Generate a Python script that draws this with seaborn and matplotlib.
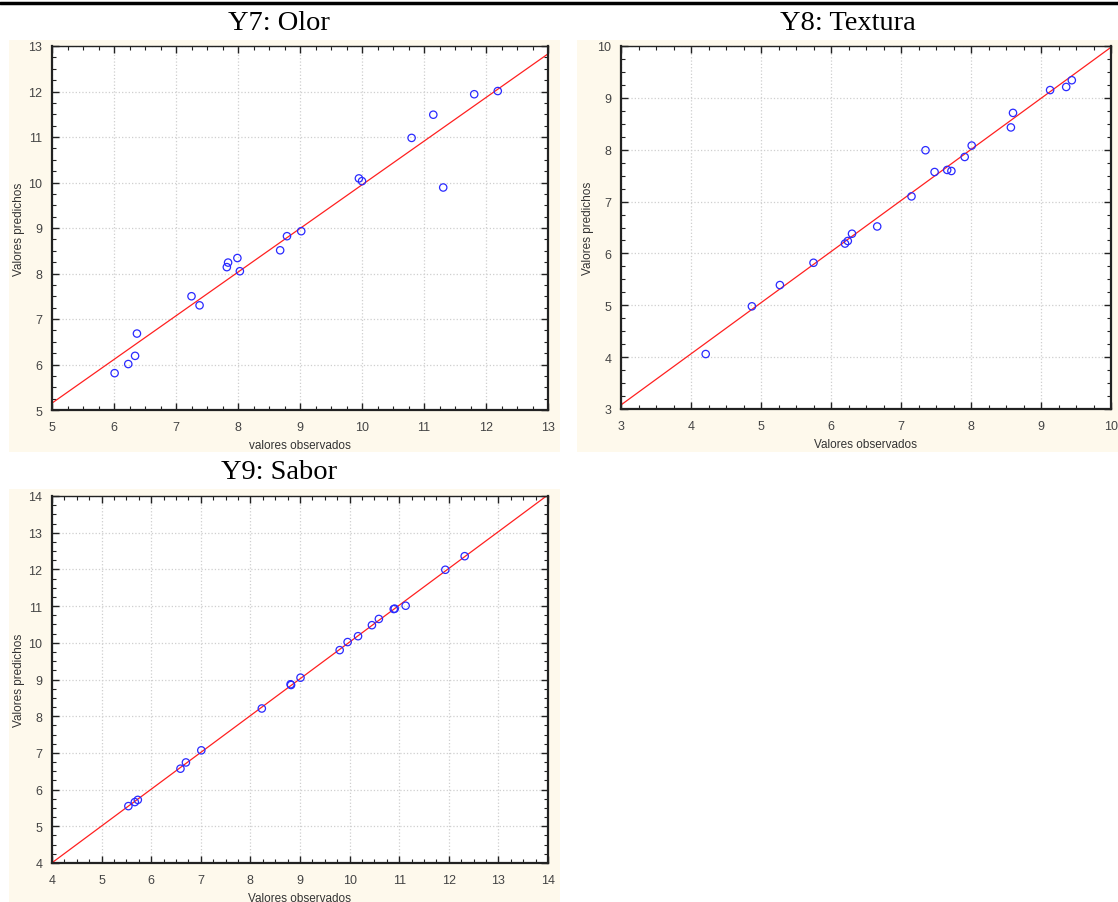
import numpy as np
import pandas as pd
import matplotlib
matplotlib.use("Agg")
import matplotlib.pyplot as plt
from matplotlib.patches import Rectangle
from matplotlib.lines import Line2D
from matplotlib.ticker import MultipleLocator
import seaborn as sns

# ---- data ----
y7_obs = [6.01, 6.23, 6.34, 6.37, 7.25, 7.38, 7.82, 7.84, 7.99, 8.03,
          8.68, 8.79, 9.02, 9.95, 10.00, 10.80, 11.15, 11.31, 11.81, 12.19]
y7_pred = [5.81, 6.01, 6.19, 6.68, 7.50, 7.30, 8.14, 8.24, 8.34, 8.05,
           8.51, 8.82, 8.93, 10.09, 10.03, 10.98, 11.49, 9.89, 11.94, 12.01]

y8_obs = [4.21, 4.87, 5.27, 5.75, 6.20, 6.24, 6.30, 6.66, 7.15, 7.35,
          7.48, 7.66, 7.72, 7.91, 8.01, 8.57, 8.60, 9.13, 9.36, 9.44]
y8_pred = [4.06, 4.98, 5.39, 5.82, 6.19, 6.24, 6.38, 6.52, 7.10, 7.99,
           7.57, 7.61, 7.59, 7.86, 8.08, 8.43, 8.71, 9.15, 9.21, 9.34]

y9_obs = [5.54, 5.67, 5.73, 6.59, 6.70, 7.01, 8.23, 8.81, 8.82, 9.01,
          9.80, 9.96, 10.17, 10.45, 10.59, 10.89, 10.91, 11.13, 11.93, 12.32]
y9_pred = [5.55, 5.66, 5.72, 6.57, 6.74, 7.07, 8.21, 8.87, 8.85, 9.05,
           9.80, 10.02, 10.18, 10.48, 10.65, 10.92, 10.93, 11.01, 11.99, 12.36]

titles = ["Y7: Olor", "Y8: Textura", "Y9: Sabor"]
xlabels = ["valores observados", "Valores observados", "Valores observados"]
ylabel = "Valores predichos"
limits = [(5, 13), (3, 10), (4, 14)]

sns.set_style("white")
plt.rcParams["font.family"] = ["Liberation Sans", "DejaVu Sans"]

W, H = 1118, 903
fig = plt.figure(figsize=(W / 100, H / 100), dpi=100)
fig.patch.set_facecolor("white")

def fx(px):
    return px / W

def fy(py):
    return 1 - py / H

cream = "#FEF9EC"
# background boxes (x0, y0, x1, y1) in pixels
boxes = [(9, 41, 560, 453), (577, 41, 1118, 453), (9, 490, 560, 903)]
for (x0, y0, x1, y1) in boxes:
    fig.add_artist(Rectangle((fx(x0), fy(y1)), fx(x1 - x0), (y1 - y0) / H,
                             transform=fig.transFigure, facecolor=cream,
                             edgecolor="none", zorder=0))

# top rule
fig.add_artist(Line2D([0, 1], [fy(4), fy(4)], transform=fig.transFigure,
                      color="black", linewidth=2.5, zorder=1))

# axes rectangles (left, top, right, bottom) in pixels
rects = [(52, 47, 548, 411), (621, 47, 1111, 410), (52, 497, 548, 864)]
title_pos = [(279, 23), (848, 23), (279, 473)]

datasets = [(y7_obs, y7_pred), (y8_obs, y8_pred), (y9_obs, y9_pred)]

for i, ((obs, pred), (l, t, r, b), (lo, hi)) in enumerate(zip(datasets, rects, limits)):
    ax = fig.add_axes([fx(l), fy(b), fx(r - l), (b - t) / H])
    ax.set_facecolor("white")
    df = pd.DataFrame({"obs": obs, "pred": pred})
    ax.set_xlim(lo, hi)
    ax.set_ylim(lo, hi)
    sns.regplot(data=df, x="obs", y="pred", ax=ax, scatter=False, ci=None,
                truncate=False, line_kws=dict(color="#ff2020", linewidth=0.9))
    sns.scatterplot(data=df, x="obs", y="pred", ax=ax, marker="o", s=28,
                    facecolor="none", edgecolor="#2a2aff", linewidth=0.9,
                    zorder=3)
    ax.set_xlim(lo, hi)
    ax.set_ylim(lo, hi)
    ax.xaxis.set_major_locator(MultipleLocator(1))
    ax.yaxis.set_major_locator(MultipleLocator(1))
    ax.xaxis.set_minor_locator(MultipleLocator(0.25))
    ax.yaxis.set_minor_locator(MultipleLocator(0.25))
    ax.tick_params(which="both", direction="in", top=True, right=True,
                   bottom=True, left=True, colors="#222222",
                   labelcolor="#444444", labelsize=9)
    ax.tick_params(axis="x", pad=8)
    ax.tick_params(axis="y", pad=7)
    ax.tick_params(which="major", length=5, width=1)
    ax.tick_params(which="minor", length=3, width=0.8)
    ax.grid(True, which="major", color="#cfcfcf", linestyle=":", linewidth=0.9)
    for side in ["left", "bottom", "right", "top"]:
        ax.spines[side].set_visible(True)
        ax.spines[side].set_color("#222222")
        ax.spines[side].set_linewidth(1.6 if side in ("left", "bottom", "right") else 1.0)
    ax.set_xlabel(xlabels[i], fontsize=8.5, color="#333333", labelpad=4)
    ax.set_ylabel(ylabel, fontsize=8.5, color="#333333", labelpad=2)
    tx, ty = title_pos[i]
    fig.text(fx(tx), fy(ty), titles[i], ha="center", va="center",
             fontsize=20.5, family=["Liberation Serif", "DejaVu Serif"],
             color="black")

fig.savefig("out.png", dpi=100, facecolor="white")
